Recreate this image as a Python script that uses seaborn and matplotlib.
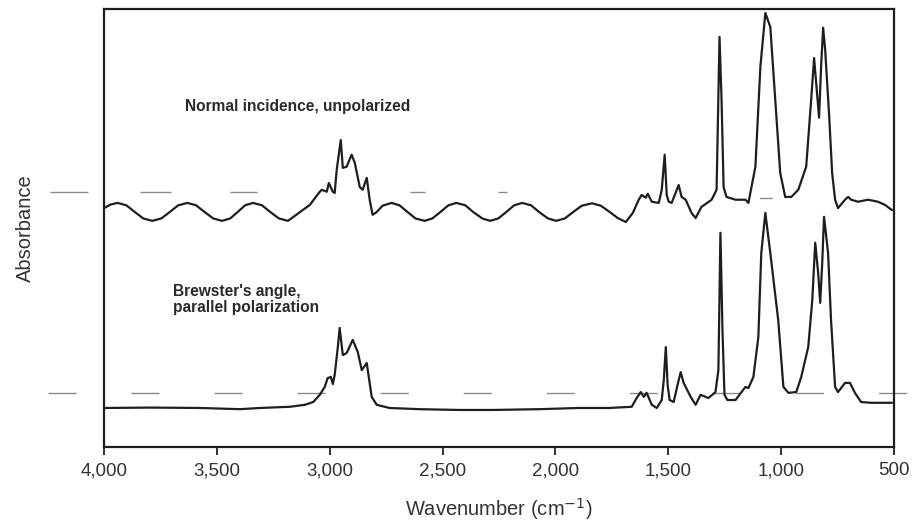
import numpy as np
import pandas as pd
import matplotlib
matplotlib.use("Agg")
import matplotlib.pyplot as plt
import matplotlib.transforms as mtransforms
import seaborn as sns

# Normal incidence, unpolarized (upper trace): wavenumber (cm-1) and absorbance
normal_wn = [4000, 3971, 3940, 3901, 3863, 3826, 3786, 3746, 3709, 3671, 3631,
             3592, 3554, 3516, 3477, 3441, 3408, 3375, 3340, 3300, 3263, 3225,
             3185, 3132, 3088, 3044, 3035, 3013, 3004, 2986, 2978, 2969, 2951,
             2942, 2925, 2903, 2889, 2867, 2854, 2836, 2823, 2810, 2792, 2766,
             2726, 2691, 2655, 2620, 2580, 2545, 2510, 2474, 2439, 2399, 2364,
             2324, 2289, 2253, 2218, 2183, 2147, 2108, 2072, 2033, 1997, 1958,
             1922, 1883, 1838, 1799, 1759, 1724, 1688, 1657, 1631, 1618, 1600,
             1591, 1573, 1542, 1529, 1516, 1507, 1498, 1485, 1454, 1441, 1423,
             1397, 1379, 1353, 1308, 1286, 1273, 1264, 1255, 1242, 1202, 1158,
             1145, 1114, 1092, 1070, 1048, 1026, 1004, 982, 955, 924, 889, 867,
             854, 845, 832, 823, 814, 805, 787, 774, 761, 748, 717, 703, 690,
             659, 615, 571, 540, 509]
normal_abs = [0.600, 0.609, 0.613, 0.607, 0.590, 0.574, 0.568, 0.574, 0.590, 0.607, 0.613,
              0.607, 0.590, 0.574, 0.568, 0.574, 0.590, 0.607, 0.613, 0.607, 0.590, 0.574,
              0.568, 0.590, 0.608, 0.641, 0.646, 0.641, 0.663, 0.641, 0.638, 0.696, 0.771,
              0.701, 0.704, 0.734, 0.714, 0.653, 0.646, 0.676, 0.621, 0.583, 0.590, 0.606,
              0.613, 0.607, 0.590, 0.574, 0.568, 0.574, 0.590, 0.607, 0.613, 0.607, 0.590,
              0.574, 0.568, 0.574, 0.590, 0.607, 0.613, 0.607, 0.590, 0.574, 0.568, 0.574,
              0.590, 0.606, 0.612, 0.606, 0.590, 0.575, 0.565, 0.588, 0.621, 0.633, 0.626,
              0.636, 0.616, 0.613, 0.646, 0.734, 0.633, 0.616, 0.613, 0.658, 0.628, 0.621,
              0.588, 0.575, 0.603, 0.621, 0.646, 1.030, 0.872, 0.653, 0.628, 0.621, 0.621,
              0.613, 0.704, 0.955, 1.090, 1.055, 0.872, 0.688, 0.628, 0.628, 0.646, 0.704, 0.872,
              0.977, 0.915, 0.827, 0.955, 1.053, 0.998, 0.829, 0.688, 0.621, 0.600, 0.621, 0.628, 0.621,
              0.616, 0.621, 0.616, 0.608, 0.595]

# Brewster's angle, parallel polarization (lower trace)
brewster_wn = [4000, 3795, 3574, 3397, 3309, 3176, 3110, 3073, 3044, 3022, 3009,
               2995, 2986, 2978, 2964, 2956, 2942, 2925, 2898, 2876, 2858, 2836,
               2814, 2792, 2735, 2602, 2426, 2280, 2072, 1896, 1763, 1662, 1640,
               1622, 1609, 1596, 1573, 1551, 1529, 1520, 1511, 1503, 1494, 1476,
               1459, 1445, 1432, 1401, 1379, 1357, 1322, 1291, 1278, 1269, 1260,
               1251, 1238, 1202, 1158, 1145, 1123, 1101, 1088, 1070, 1048, 1013,
               990, 968, 933, 911, 880, 862, 849, 836, 827, 818, 810, 801, 792,
               779, 761, 748, 717, 695, 673, 646, 602, 509]
brewster_abs = [0.098, 0.099, 0.098, 0.095, 0.098, 0.101, 0.106, 0.113, 0.131, 0.151, 0.173,
                0.176, 0.158, 0.181, 0.251, 0.299, 0.231, 0.236, 0.269, 0.239, 0.193, 0.211,
                0.126, 0.106, 0.098, 0.095, 0.093, 0.093, 0.095, 0.098, 0.098, 0.101, 0.123,
                0.138, 0.126, 0.136, 0.106, 0.098, 0.118, 0.168, 0.251, 0.156, 0.118, 0.113,
                0.156, 0.188, 0.161, 0.126, 0.106, 0.131, 0.123, 0.138, 0.193, 0.538, 0.294,
                0.131, 0.118, 0.118, 0.151, 0.148, 0.176, 0.276, 0.487, 0.588, 0.487, 0.319,
                0.151, 0.136, 0.138, 0.176, 0.251, 0.369, 0.513, 0.437, 0.362, 0.462, 0.578, 0.533, 0.487,
                0.319, 0.151, 0.138, 0.161, 0.161, 0.136, 0.113, 0.111, 0.111]

# Baseline reference levels drawn as grey dashes
normal_ref = 0.641
brewster_ref = 0.136

xticks = [4000, 3500, 3000, 2500, 2000, 1500, 1000, 500]
xtick_labels = ["4,000", "3,500", "3,000", "2,500", "2,000", "1,500", "1,000", "500"]

sns.set_theme(style="white")
plt.rcParams["font.family"] = ["Liberation Sans", "DejaVu Sans"]

fig = plt.figure(figsize=(9.13, 5.24), dpi=100)
ax = fig.add_axes([104 / 913, 1 - 447 / 524, 790 / 913, 438 / 524])

trans = mtransforms.blended_transform_factory(ax.transAxes, ax.transData)
grey = "#8a8a8a"
ax.plot([-0.0684, 0.510], [normal_ref, normal_ref], transform=trans, clip_on=False,
        color=grey, lw=1.0, zorder=1,
        dashes=[27.4, 37.4, 22.3, 42.5, 19.4, 110.2, 10.8, 52.6, 6.5, 30])
ax.plot([0.830, 0.846], [0.626, 0.626], transform=trans, clip_on=False,
        color=grey, lw=1.0, zorder=1)
ax.plot([-0.0709, 1.0228], [brewster_ref, brewster_ref], transform=trans, clip_on=False,
        color=grey, lw=1.0, zorder=1, dashes=[20.2, 39.6])

normal = pd.DataFrame({"wavenumber": normal_wn, "absorbance": normal_abs})
brewster = pd.DataFrame({"wavenumber": brewster_wn, "absorbance": brewster_abs})
for df in (normal, brewster):
    sns.lineplot(data=df, x="wavenumber", y="absorbance", ax=ax, sort=False,
                 estimator=None, color="#1e1e1e", lw=1.6, zorder=3)

ax.set_xlim(4000, 500)
ax.set_ylim(0, 1.1)
ax.set_xticks(xticks)
ax.set_xticklabels(xtick_labels)
ax.set_yticks([])
ax.tick_params(axis="x", direction="out", length=6, width=1.3, color="#222222",
               labelsize=13.5, pad=5, labelcolor="#333333", bottom=True)
for sp in ax.spines.values():
    sp.set_color("#1e1e1e")
    sp.set_linewidth(1.6)

ax.set_xlabel("Wavenumber (cm$^{-1}$)", fontsize=14.5, color="#333333", labelpad=12)
ax.set_ylabel("Absorbance", fontsize=14.5, color="#333333", labelpad=50)

ax.text(3640, 0.854, "Normal incidence, unpolarized", fontsize=11.2, fontweight="bold",
        color="#2a2a2a", ha="left", va="center")
ax.text(3693, 0.370, "Brewster's angle,\nparallel polarization", fontsize=11.2,
        fontweight="bold", color="#2a2a2a", ha="left", va="center", linespacing=1.05)

fig.savefig("out.png", dpi=100)
